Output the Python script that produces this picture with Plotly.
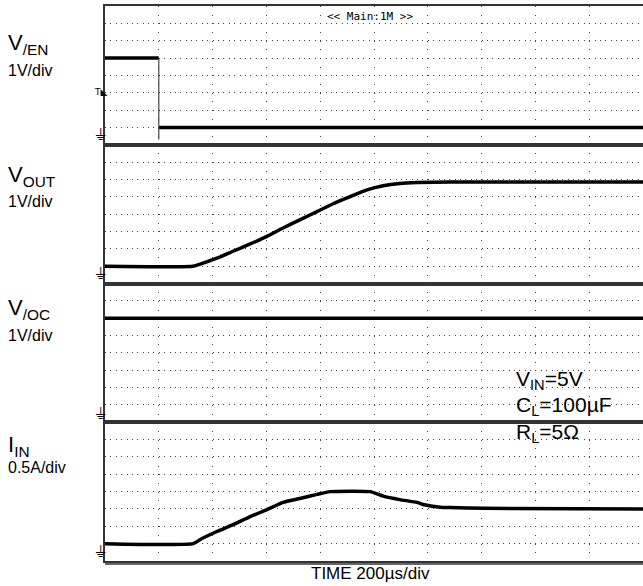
import plotly.graph_objects as go
from plotly.subplots import make_subplots

# time axis in divisions (200us/div)
t_en = [0, 1.0, None, 1.0, 10]
v_en = [4, 4, None, 0, 0]
t_edge = [1.0, 1.0]
v_edge = [4, -0.7]

t_out = [0, 1.64, 1.77, 2.08, 2.38, 2.70, 3.01, 3.31, 3.62, 3.94, 4.24, 4.55, 4.87, 5.17, 5.48, 5.80, 6.41, 10]
v_out = [0, 0, 0.12, 0.46, 0.86, 1.28, 1.72, 2.2, 2.67, 3.14, 3.6, 4.0, 4.4, 4.64, 4.77, 4.82, 4.85, 4.85]

t_oc = [0, 10]
v_oc = [5, 5]

t_in = [0, 1.64, 1.77, 2.08, 2.38, 2.70, 3.01, 3.31, 3.62, 3.94, 4.18, 4.93, 5.17, 5.48, 5.80, 5.91, 6.23, 6.41, 7.03, 10]
i_in = [0, 0, 0.12, 0.35, 0.55, 0.78, 0.98, 1.19, 1.3, 1.42, 1.5, 1.5, 1.37, 1.27, 1.19, 1.13, 1.05, 1.04, 1.02, 1.0]

ch_names = ["V<sub>/EN</sub>", "V<sub>OUT</sub>", "V<sub>/OC</sub>", "I<sub>IN</sub>"]
ch_scales = ["1V/div", "1V/div", "1V/div", "0.5A/div"]
per_div = [1, 1, 1, 0.5]

L, R, T, B = 105, 643, 6, 561
W, H = 643, 586


def px(x, y):
    return (x - L) / (R - L), (B - y) / (B - T)


fig = make_subplots(rows=4, cols=1, shared_xaxes=True, vertical_spacing=0)

line = dict(color="black", width=3.5)
curve = dict(color="black", width=3.5, shape="spline", smoothing=0.5)
fig.add_trace(go.Scatter(x=t_en, y=v_en, mode="lines", line=line), row=1, col=1)
fig.add_trace(go.Scatter(x=t_edge, y=v_edge, mode="lines", line=dict(color="#444", width=1.2)), row=1, col=1)
fig.add_trace(go.Scatter(x=t_out, y=v_out, mode="lines", line=curve), row=2, col=1)
fig.add_trace(go.Scatter(x=t_oc, y=v_oc, mode="lines", line=line), row=3, col=1)
fig.add_trace(go.Scatter(x=t_in, y=i_in, mode="lines", line=curve), row=4, col=1)

for r in range(1, 5):
    d = per_div[r - 1]
    fig.update_yaxes(
        range=[-1 * d, 7 * d], dtick=d, tick0=0,
        showgrid=True, gridcolor="#444", gridwidth=1, griddash="1px,4.38px",
        zeroline=False, showticklabels=False, ticks="",
        showline=True, linecolor="#333", linewidth=1.5,
        row=r, col=1,
    )
    fig.update_xaxes(
        range=[0, 10], dtick=1, tick0=0,
        showgrid=True, gridcolor="#444", gridwidth=1, griddash="1px,7.67px",
        zeroline=False, showticklabels=False, ticks="",
        showline=True, mirror=True, linecolor="#333", linewidth=1.5,
        row=r, col=1,
    )

ann = []
label_y = [44, 176, 309, 446]
scale_y = [70, 202, 336, 468]
ground_y = [128, 267, 407, 545]
for i in range(4):
    x0, y0 = px(6, label_y[i])
    ann.append(dict(x=x0, y=y0, text=ch_names[i], font=dict(size=22)))
    x0, y0 = px(6, scale_y[i])
    ann.append(dict(x=x0, y=y0, text=ch_scales[i], font=dict(size=16)))
    x0, y0 = px(93, ground_y[i] + 6)
    ann.append(dict(x=x0, y=y0, text="⏚", font=dict(size=16, family="DejaVu Sans")))

x0, y0 = px(92, 92)
ann.append(dict(x=x0, y=y0, text="T◣", font=dict(size=9, family="DejaVu Sans")))

for txt, yy in [("V<sub>IN</sub>=5V", 380), ("C<sub>L</sub>=100µF", 406), ("R<sub>L</sub>=5Ω", 433)]:
    x0, y0 = px(514, yy)
    ann.append(dict(x=x0, y=y0, text=txt, font=dict(size=21)))

x0, y0 = px(370, 16)
ann.append(dict(x=x0, y=y0, text="&lt;&lt; Main:1M &gt;&gt;", xanchor="center",
                font=dict(size=11, family="DejaVu Sans Mono")))
x0, y0 = px(370, 573)
ann.append(dict(x=x0, y=y0, text="TIME 200µs/div", xanchor="center", font=dict(size=17)))

for a in ann:
    a.setdefault("xanchor", "left")
    a.update(xref="paper", yref="paper", yanchor="middle", showarrow=False)

fig.update_layout(
    width=W, height=H,
    autosize=False,
    margin={"l": L, "r": W - R, "t": T, "b": H - B},
    paper_bgcolor="white",
    plot_bgcolor="white",
    showlegend=False,
    font=dict(family="Arial, Liberation Sans, sans-serif", color="black"),
    annotations=ann,
    shapes=[dict(type="line", xref="paper", yref="paper", x0=0, x1=1,
                 y0=-3 / (B - T), y1=-3 / (B - T), line=dict(color="#333", width=1.5))],
)

# page has a default 8px body margin; drop it so the figure sits at the window corner
fig.write_html(
    "out.html",
    config={"displayModeBar": False},
    post_script="document.body.style.margin='0';document.body.style.overflow='hidden';",
)
